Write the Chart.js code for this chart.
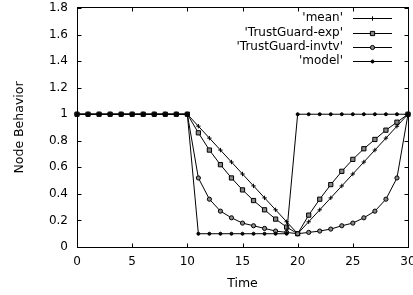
<!DOCTYPE html>
<html><head><meta charset="utf-8">
<script src="https://cdn.jsdelivr.net/npm/chart.js@4"></script>
<style>html,body{margin:0;padding:0;background:#fff}#c{display:block}</style>
</head><body>
<canvas id="c" width="413" height="295" style="width:413px;height:295px"></canvas>
<script>
const time = [0,1,2,3,4,5,6,7,8,9,10,11,12,13,14,15,16,17,18,19,20,21,22,23,24,25,26,27,28,29,30];
const meanVals = [1,1,1,1,1,1,1,1,1,1,1, 0.91,0.82,0.73,0.64,0.55,0.46,0.37,0.28,0.19,0.1, 0.19,0.28,0.37,0.46,0.55,0.64,0.73,0.82,0.91,1];
const expVals = [1,1,1,1,1,1,1,1,1,1,1, 0.86,0.73,0.62,0.52,0.43,0.35,0.28,0.21,0.15,0.1, 0.24,0.36,0.47,0.57,0.66,0.74,0.81,0.88,0.94,1];
const invtvVals = [1,1,1,1,1,1,1,1,1,1,1, 0.52,0.36,0.27,0.22,0.18,0.16,0.14,0.12,0.11,0.1, 0.11,0.12,0.135,0.16,0.18,0.22,0.27,0.36,0.52,1];
const modelVals = [1,1,1,1,1,1,1,1,1,1,1, 0.1,0.1,0.1,0.1,0.1,0.1,0.1,0.1,0.1, 1,1,1,1,1,1,1,1,1,1,1];
const seriesNames = ["'mean'", "'TrustGuard-exp'", "'TrustGuard-invtv'", "'model'"];
const xTickLabels = ['0','5','10','15','20','25','30'];
const yTickLabels = ['0','0.2','0.4','0.6','0.8','1','1.2','1.4','1.6','1.8'];

const FONT = "'DejaVu Sans', Verdana, sans-serif";
const pts = arr => time.map((t, i) => ({x: t, y: arr[i]}));

const styles = [
  {pointStyle: 'cross', pointRadius: 2.2, pointBackgroundColor: '#000', pointBorderColor: '#000', pointBorderWidth: 1},
  {pointStyle: 'rect', pointRadius: 3.0, pointBackgroundColor: '#888', pointBorderColor: '#000', pointBorderWidth: 1},
  {pointStyle: 'circle', pointRadius: 2.1, pointBackgroundColor: '#888', pointBorderColor: '#000', pointBorderWidth: 1},
  {pointStyle: 'circle', pointRadius: 1.5, pointBackgroundColor: '#000', pointBorderColor: '#000', pointBorderWidth: 1}
];
const drawOrder = [4, 3, 2, 1];
const allVals = [meanVals, expVals, invtvVals, modelVals];
const datasets = allVals.map((v, i) => Object.assign({
  label: seriesNames[i], data: pts(v), borderColor: '#000', borderWidth: 1,
  fill: false, tension: 0, clip: false, pointHoverRadius: 3, order: drawOrder[i]
}, styles[i]));

const framePlugin = {
  id: 'frame',
  beforeDatasetsDraw(chart) {
    const {ctx, chartArea: a, scales} = chart;
    ctx.save();
    ctx.strokeStyle = '#000'; ctx.lineWidth = 1;
    const L = a.left + 0.5, R = a.right + 0.5, T = a.top - 0.5, B = a.bottom + 0.5;
    ctx.strokeRect(L, T, R - L, B - T);
    ctx.beginPath();
    xTickLabels.forEach(l => {
      const px = Math.round(scales.x.getPixelForValue(parseFloat(l))) + 0.5;
      ctx.moveTo(px, B); ctx.lineTo(px, B - 4);
      ctx.moveTo(px, T); ctx.lineTo(px, T + 4);
    });
    yTickLabels.forEach(l => {
      const py = Math.round(scales.y.getPixelForValue(parseFloat(l))) + 0.5;
      ctx.moveTo(L, py); ctx.lineTo(L + 4, py);
      ctx.moveTo(R, py); ctx.lineTo(R - 4, py);
    });
    ctx.stroke();
    ctx.restore();
  },
  afterDraw(chart) {
    const {ctx} = chart;
    ctx.save();
    ctx.font = '12px ' + FONT;
    ctx.fillStyle = '#000';
    ctx.textAlign = 'right';
    ctx.textBaseline = 'middle';
    const rowY = [18, 32.5, 47, 61];
    seriesNames.forEach((n, i) => {
      const y = rowY[i];
      ctx.fillStyle = '#000';
      ctx.fillText(n, 343, y);
      ctx.strokeStyle = '#000'; ctx.lineWidth = 1;
      ctx.beginPath(); ctx.moveTo(353, Math.round(y) + 0.5); ctx.lineTo(392, Math.round(y) + 0.5); ctx.stroke();
      const s = styles[i];
      ctx.fillStyle = s.pointBackgroundColor; ctx.strokeStyle = s.pointBorderColor;
      Chart.helpers.drawPoint(ctx, {pointStyle: s.pointStyle, radius: s.pointRadius, rotation: 0, borderWidth: 1}, 372.5, Math.round(y) + 0.5);
    });
    ctx.restore();
  }
};

new Chart(document.getElementById('c'), {
  type: 'line',
  data: {datasets},
  options: {
    responsive: false, animation: false, devicePixelRatio: 1,
    layout: {padding: {top: 8, right: 5, left: 0, bottom: 0}},
    plugins: {legend: {display: false}, tooltip: {enabled: false}},
    scales: {
      x: {
        type: 'linear', min: 0, max: 30,
        afterBuildTicks: s => { s.ticks = xTickLabels.map(l => ({value: parseFloat(l)})); },
        afterFit: s => { s.height = 48; s.paddingLeft = 0; s.paddingRight = 0; },
        grid: {display: false, drawTicks: false},
        border: {display: false},
        ticks: {color: '#000', font: {family: FONT, size: 12}, padding: 8, maxRotation: 0, autoSkip: false,
                callback: (v, i) => xTickLabels[i]},
        title: {display: true, text: 'Time', color: '#000', font: {family: FONT, size: 12.5}, padding: {top: 0, bottom: 4}}
      },
      y: {
        type: 'linear', min: 0, max: 1.8,
        afterBuildTicks: s => { s.ticks = yTickLabels.map(l => ({value: parseFloat(l)})); },
        afterFit: s => { s.width = 77; s.paddingTop = 0; s.paddingBottom = 0; },
        grid: {display: false, drawTicks: false},
        border: {display: false},
        ticks: {color: '#000', font: {family: FONT, size: 12}, padding: 9, autoSkip: false,
                callback: (v, i) => yTickLabels[i]},
        title: {display: true, text: 'Node Behavior', color: '#000', font: {family: FONT, size: 12.5}, padding: {top: 12, bottom: 0}}
      }
    }
  },
  plugins: [framePlugin]
});
</script>
</body></html>
